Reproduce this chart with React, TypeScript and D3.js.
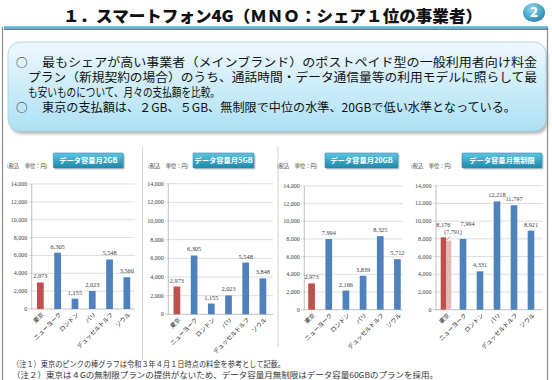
import React from "react";
import * as d3 from "d3";

const categories = ["東京", "ニューヨーク", "ロンドン", "パリ", "デュッセルドルフ", "ソウル"];
const values2GB = [2973, 6305, 1155, 2023, 5548, 3560];
const values5GB = [2973, 6305, 1155, 2023, 5548, 3848];
const values20GB = [2973, 7994, 2166, 3839, 8325, 5712];
const valuesUnlimited = [8176, 7994, 4331, 12218, 11797, 8921];
const tokyoUnlimitedPrev = 7791;
const panelTitles = ["データ容量月2GB", "データ容量月5GB", "データ容量月20GB", "データ容量月無制限"];
const yTicks = [0, 2000, 4000, 6000, 8000, 10000, 12000, 14000];
const unitLabel = "(税込　単位：円)";
const pageTitle = "１．スマートフォン4G（ＭＮＯ：シェア１位の事業者）";
const bodyLines = [
  "最もシェアが高い事業者（メインブランド）のポストペイド型の一般利用者向け料金",
  "プラン（新規契約の場合）のうち、通話時間・データ通信量等の利用モデルに照らして最",
  "も安いものについて、月々の支払額を比較。",
  "東京の支払額は、２GB、５GB、無制限で中位の水準、20GBで低い水準となっている。",
];
const notes = [
  "（注１）東京のピンクの棒グラフは令和３年４月１日時点の料金を参考として記載。",
  "（注２）東京は４Gの無制限プランの提供がないため、データ容量月無制限はデータ容量60GBのプランを採用。",
];

const RED = "#C0504D";
const BLUE = "#4F81BD";
const PINK = "#E6B9B8";
const JP = "'Noto Sans CJK JP', 'Noto Sans', sans-serif";
const NUM = "'Liberation Serif', serif";

const panels = [
  { values: values2GB, band: [31.7, 135.5], axisX: 31.7, gridEnd: 135, yTop: 184, y0: 309, btn: [53.3, 123.3], unitX: 7 },
  { values: values5GB, band: [168.3, 271.5], axisX: 168.3, gridEnd: 273, yTop: 183.7, y0: 314.3, btn: [193, 254], unitX: 148 },
  { values: values20GB, band: [303, 406], axisX: 304.3, gridEnd: 403, yTop: 186, y0: 309.7, btn: [325, 398], unitX: 277 },
  { values: valuesUnlimited, band: [437.5, 539.5], axisX: 436, gridEnd: 543, yTop: 185.7, y0: 309.7, btn: [462, 542], unitX: 411 },
];

function Panel({ p, idx }: { p: any; idx: number }) {
  const x = d3.scaleBand<string>().domain(categories).range(p.band as [number, number]).padding(0);
  const y = d3.scaleLinear().domain([0, 14000]).range([p.y0, p.yTop]);
  const step = x.step();
  const bw = step * 0.39;
  const fmt = d3.format(",");
  const isUnl = idx === 3;
  return (
    <g>
      <rect x={p.btn[0] + 1.5} y={154.5} width={p.btn[1] - p.btn[0]} height={15} fill="#999" opacity={0.5} rx={1} />
      <rect x={p.btn[0]} y={153} width={p.btn[1] - p.btn[0]} height={15} fill="url(#btnGrad)" stroke="#2C8CAA" strokeWidth={0.6} rx={1} />
      <text x={(p.btn[0] + p.btn[1]) / 2} y={163.3} textAnchor="middle" fontFamily={JP} fontWeight={700} fontSize={7.3} fill="#fff">
        {panelTitles[idx]}
      </text>
      <text x={p.unitX} y={168} fontFamily={JP} fontSize={5.3} fill="#444">{unitLabel}</text>
      {yTicks.map((t) => (
        <g key={t}>
          <line x1={p.axisX - 3} x2={p.gridEnd} y1={y(t)} y2={y(t)} stroke={t === 0 ? "#A6A6A6" : "#D0D0D0"} strokeWidth={0.7} />
          <text x={p.axisX - 4.5} y={y(t) + 2} textAnchor="end" fontFamily={NUM} fontSize={6} fill="#404040">
            {fmt(t)}
          </text>
        </g>
      ))}
      <line x1={p.axisX} x2={p.axisX} y1={p.yTop} y2={p.y0} stroke="#A6A6A6" strokeWidth={0.7} />
      {categories.map((c, i) => {
        const cx = (x(c) as number) + step / 2;
        const v = p.values[i];
        if (isUnl && i === 0) {
          const w = 5.3;
          return (
            <g key={c}>
              <rect x={cx - w} y={y(v)} width={w} height={p.y0 - y(v)} fill={RED} />
              <rect x={cx} y={y(tokyoUnlimitedPrev)} width={w} height={p.y0 - y(tokyoUnlimitedPrev)} fill={PINK} />
              <text x={cx - w / 2} y={y(v) - 10} textAnchor="middle" fontFamily={NUM} fontSize={6.3} fill="#404040">{fmt(v)}</text>
              <text x={cx + 7} y={y(v) - 2.8} textAnchor="middle" fontFamily={NUM} fontSize={6} fill="#404040">({fmt(tokyoUnlimitedPrev)})</text>
              <line x1={cx + 0.5} y1={y(tokyoUnlimitedPrev) - 0.5} x2={cx + 4} y2={y(v) - 1} stroke="#404040" strokeWidth={0.5} />
            </g>
          );
        }
        const crowded = isUnl && i === 1;
        return (
          <g key={c}>
            <rect x={cx - bw / 2} y={y(v)} width={bw} height={p.y0 - y(v)} fill={i === 0 ? RED : BLUE} />
            <text x={cx + (crowded ? 4.5 : 0)} y={y(v) - (crowded ? 12.5 : 4)} textAnchor="middle" fontFamily={NUM} fontSize={6.3} fill="#404040">{fmt(v)}</text>
          </g>
        );
      })}
      {categories.map((c) => {
        const cx = (x(c) as number) + step / 2;
        return (
          <text key={c} transform={`translate(${cx + 4},${p.y0 + 6}) rotate(-45)`} textAnchor="end" fontFamily={JP} fontSize={6} fill="#222">
            {c}
          </text>
        );
      })}
    </g>
  );
}

export default function App() {
  return (
    <svg width={552} height={380} style={{ position: "absolute", left: 0, top: 0, background: "#fff" }}>
      <defs>
        <linearGradient id="boxGrad" x1="0" y1="0" x2="0" y2="1">
          <stop offset="0" stopColor="#EEF9FE" />
          <stop offset="1" stopColor="#ACE0F4" />
        </linearGradient>
        <linearGradient id="btnGrad" x1="0" y1="0" x2="0" y2="1">
          <stop offset="0" stopColor="#5CC6E2" />
          <stop offset="1" stopColor="#1E88AC" />
        </linearGradient>
        <linearGradient id="lineGrad" x1="0" y1="0" x2="0" y2="1">
          <stop offset="0" stopColor="#8BD5EC" />
          <stop offset="1" stopColor="#2E9CC2" />
        </linearGradient>
        <radialGradient id="badgeGrad" cx="0.4" cy="0.3" r="0.8">
          <stop offset="0" stopColor="#8ED8F0" />
          <stop offset="1" stopColor="#1C7FA9" />
        </radialGradient>
        <filter id="blur" x="-5%" y="-5%" width="110%" height="120%">
          <feGaussianBlur stdDeviation="1.5" />
        </filter>
      </defs>
      <rect width={552} height={380} fill="#fff" />
      <line x1={2.5} x2={2.5} y1={27} y2={380} stroke="#8C8C8C" strokeWidth={1.2} />
      <line x1={547.5} x2={547.5} y1={27} y2={380} stroke="#8C8C8C" strokeWidth={1.2} />
      <text x={63} y={22} fontFamily={JP} fontWeight={900} fontSize={16} fill="#111" textLength={419} lengthAdjust="spacingAndGlyphs">
        {pageTitle}
      </text>
      <rect x={4} y={26} width={544} height={2.6} fill="url(#lineGrad)" />
      <line x1={4} x2={548} y1={29.3} y2={29.3} stroke="#444" strokeWidth={0.9} />
      <ellipse cx={534} cy={12.5} rx={11} ry={9.5} fill="url(#badgeGrad)" />
      <text x={534} y={17} textAnchor="middle" fontFamily={JP} fontWeight={900} fontSize={13} fill="#fff">2</text>
      <rect x={10} y={45} width={538} height={89} rx={12} fill="#9A9A9A" filter="url(#blur)" opacity={0.7} />
      <rect x={8} y={42} width={538} height={89} rx={12} fill="url(#boxGrad)" stroke="#A9CFDD" strokeWidth={0.8} />
      <text x={16} y={66.5} fontFamily={JP} fontSize={11.5} fill="#111">○</text>
      <text x={42} y={66.5} fontFamily={JP} fontSize={12} fill="#111" textLength={495} lengthAdjust="spacingAndGlyphs">{bodyLines[0]}</text>
      <text x={28} y={81.5} fontFamily={JP} fontSize={12} fill="#111" textLength={509} lengthAdjust="spacingAndGlyphs">{bodyLines[1]}</text>
      <text x={28} y={96.5} fontFamily={JP} fontSize={12} fill="#111" textLength={192} lengthAdjust="spacingAndGlyphs">{bodyLines[2]}</text>
      <text x={16} y={112} fontFamily={JP} fontSize={11.5} fill="#111">○</text>
      <text x={42} y={112} fontFamily={JP} fontSize={12} fill="#111" textLength={474} lengthAdjust="spacingAndGlyphs">{bodyLines[3]}</text>
      <line x1={142.5} x2={142.5} y1={147} y2={360} stroke="#C8C8C8" strokeWidth={0.8} />
      <line x1={278} x2={278} y1={147} y2={347} stroke="#C8C8C8" strokeWidth={0.8} />
      {panels.map((p, i) => (
        <Panel key={i} p={p} idx={i} />
      ))}
      <text x={12} y={367} fontFamily={JP} fontSize={8} fill="#333" textLength={273} lengthAdjust="spacingAndGlyphs">{notes[0]}</text>
      <text x={12} y={377.5} fontFamily={JP} fontSize={8} fill="#333" textLength={426} lengthAdjust="spacingAndGlyphs">{notes[1]}</text>
    </svg>
  );
}
